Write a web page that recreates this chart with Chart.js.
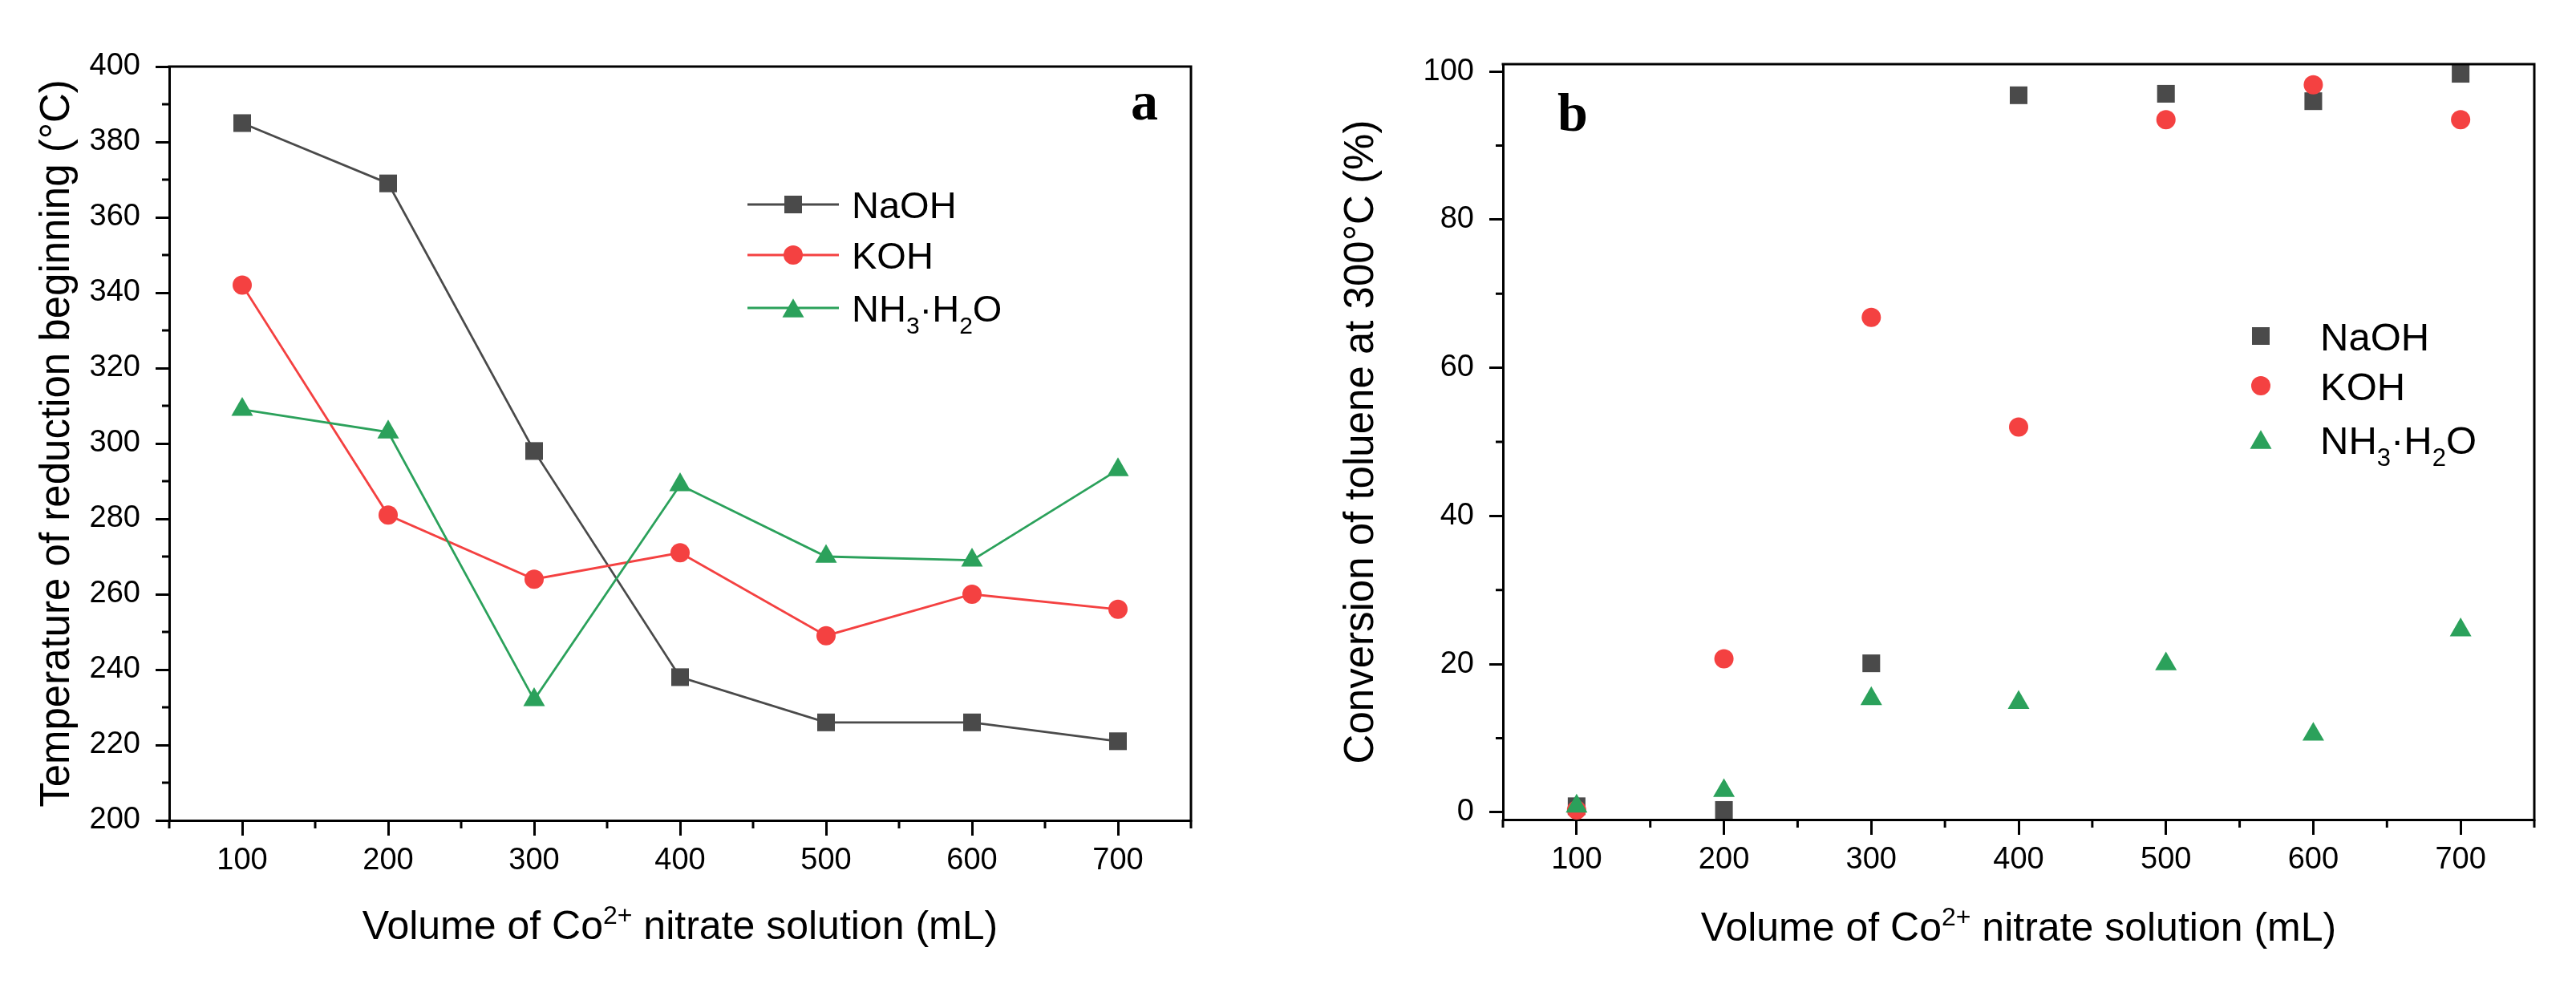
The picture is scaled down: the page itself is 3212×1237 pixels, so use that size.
<!DOCTYPE html>
<html>
<head>
<meta charset="utf-8">
<title>Co2+ nitrate volume</title>
<script src="https://cdn.jsdelivr.net/npm/chart.js@4.4.0/dist/chart.umd.min.js"></script>
<style>
  html, body { margin: 0; padding: 0; background: #fff; }
  canvas { position: absolute; top: 0; }
  #chartA { left: 0; }
  #chartB { left: 1606px; }
</style>
</head>
<body>
<canvas id="chartA" width="1606" height="1237"></canvas>
<canvas id="chartB" width="1606" height="1237"></canvas>
<script>
// volume of Co2+ nitrate solution (mL)
const volumes = [100, 200, 300, 400, 500, 600, 700]

// panel a: temperature of reduction beginning (°C)
const tempNaOH = [385, 369, 298, 238, 226, 226, 221]
const tempKOH = [342, 281, 264, 271, 249, 260, 256]
const tempNH3 = [309, 303, 232, 289, 270, 269, 293]

// panel b: conversion of toluene at 300°C (%)
const convNaOH = [0.8, 0.3, 20.1, 96.8, 97.0, 96.0, 99.7]
const convKOH = [0.3, 20.7, 66.8, 52.0, 93.5, 98.2, 93.5]
const convNH3 = [0.8, 2.9, 15.3, 14.8, 20.0, 10.5, 24.6]

// ticks
const xTicks = [100, 200, 300, 400, 500, 600, 700]
const xMinorTicks = [50, 150, 250, 350, 450, 550, 650, 750]
const tempTicks = [200, 220, 240, 260, 280, 300, 320, 340, 360, 380, 400]
const tempMinorTicks = [210, 230, 250, 270, 290, 310, 330, 350, 370, 390]
const convTicks = [0, 20, 40, 60, 80, 100]
const convMinorTicks = [10, 30, 50, 70, 90]

// legend names, with sub/superscripts as parts
const seriesNames = [
    [["NaOH", ""]],
    [["KOH", ""]],
    [["NH", ""], ["3", "sub"], ["·H", ""], ["2", "sub"], ["O", ""]]
]
const xTitle = [["Volume of Co", ""], ["2+", "sup"], [" nitrate solution (mL)", ""]]

const colors = ["#4a4a4a", "#f44141", "#2ba15b"]
const shapes = ["rect", "circle", "triangle"]
const radii = [15.6, 12, 15.6]

const FONT = '"Liberation Sans", Arial, sans-serif'
Chart.defaults.font.family = FONT
Chart.defaults.color = "#000"

function toPoints(ys) {
    return volumes.map((v, i) => ({ x: v, y: ys[i] }))
}

function drawRich(ctx, parts, x, y, size, align) {
    const fontFor = k => (k ? Math.round(size * 0.63) : size) + "px " + FONT
    let total = 0
    parts.forEach(([t, k]) => { ctx.font = fontFor(k); total += ctx.measureText(t).width })
    let cx = align === "center" ? x - total / 2 : x
    ctx.textAlign = "left"
    ctx.textBaseline = "alphabetic"
    ctx.fillStyle = "#000"
    parts.forEach(([t, k]) => {
        ctx.font = fontFor(k)
        const dy = k === "sup" ? -size * 0.38 : (k === "sub" ? size * 0.32 : 0)
        ctx.fillText(t, cx, y + dy)
        cx += ctx.measureText(t).width
    })
}

function drawMarker(ctx, shape, x, y, r) {
    ctx.beginPath()
    if (shape === "rect") {
        const s = Math.SQRT1_2 * r
        ctx.rect(x - s, y - s, 2 * s, 2 * s)
    } else if (shape === "circle") {
        ctx.arc(x, y, r, 0, Math.PI * 2)
    } else {
        // centred on its box like the reference legend
        const h = r * 1.5
        ctx.moveTo(x, y - h / 2)
        ctx.lineTo(x + r * 0.866, y + h / 2)
        ctx.lineTo(x - r * 0.866, y + h / 2)
        ctx.closePath()
    }
    ctx.fill()
}

// frame, minor ticks, x title, legend and panel letter
const decor = {
    id: "decor",
    afterDraw(chart, args, opts) {
        const ctx = chart.ctx
        const area = chart.chartArea
        const xs = chart.scales.x
        const ys = chart.scales.y
        ctx.save()
        ctx.strokeStyle = "#000"
        ctx.lineWidth = 3
        ctx.lineCap = "square"
        ctx.beginPath()
        ctx.moveTo(area.left, area.top)
        ctx.lineTo(area.right, area.top)
        ctx.lineTo(area.right, area.bottom)
        ctx.stroke()

        ctx.lineCap = "butt"
        ctx.beginPath()
        opts.xMinor.forEach(v => {
            const px = xs.getPixelForValue(v)
            ctx.moveTo(px, area.bottom)
            ctx.lineTo(px, area.bottom + 10)
        })
        opts.yMinor.forEach(v => {
            const py = ys.getPixelForValue(v)
            ctx.moveTo(area.left, py)
            ctx.lineTo(area.left - 9, py)
        })
        ctx.stroke()

        drawRich(ctx, xTitle, (area.left + area.right) / 2, opts.titleBaseline, 50, "center")

        const lg = opts.legend
        chart.data.datasets.forEach((ds, i) => {
            const ym = lg.rows[i]
            ctx.fillStyle = ds.backgroundColor
            if (lg.lineHalf) {
                ctx.strokeStyle = ds.borderColor
                ctx.lineWidth = ds.borderWidth
                ctx.beginPath()
                ctx.moveTo(lg.x - lg.lineHalf, ym)
                ctx.lineTo(lg.x + lg.lineHalf, ym)
                ctx.stroke()
            }
            drawMarker(ctx, ds.pointStyle, lg.x, ym, ds.pointRadius)
            drawRich(ctx, seriesNames[i], lg.textX, ym + lg.size * 0.358, lg.size, "left")
        })

        ctx.font = "bold 68px \"Liberation Serif\", \"Times New Roman\", serif"
        ctx.fillStyle = "#000"
        ctx.textAlign = "left"
        ctx.textBaseline = "alphabetic"
        ctx.fillText(opts.letter.text, opts.letter.x, opts.letter.y)
        ctx.restore()
    }
}

function makeDatasets(series, withLine) {
    return series.map((ys, i) => ({
        label: seriesNames[i].map(p => p[0]).join(""),
        data: toPoints(ys),
        borderColor: colors[i],
        backgroundColor: colors[i],
        borderWidth: 2.8,
        showLine: withLine,
        pointStyle: shapes[i],
        pointRadius: radii[i],
        pointHoverRadius: radii[i],
        pointBorderWidth: 0,
        order: 3 - i,
        clip: false
    }))
}

function buildOptions(p) {
    return {
        responsive: false,
        devicePixelRatio: 1,
        animation: false,
        events: [],
        layout: { padding: { top: p.top, right: p.right, left: 0, bottom: 0 } },
        plugins: {
            legend: { display: false },
            tooltip: { enabled: false },
            decor: p.decor
        },
        scales: {
            x: {
                type: "linear",
                min: 50,
                max: 750,
                afterBuildTicks: s => { s.ticks = xTicks.map(v => ({ value: v })) },
                afterFit: s => { s.height = p.xHeight },
                ticks: { font: { size: 38 }, padding: 9, color: "#000", maxRotation: 0 },
                grid: { drawOnChartArea: false, drawTicks: true, tickLength: 19, tickWidth: 3, tickColor: "#000" },
                border: { display: true, color: "#000", width: 3 }
            },
            y: {
                type: "linear",
                min: p.yMin,
                max: p.yMax,
                afterBuildTicks: s => { s.ticks = p.yTicks.map(v => ({ value: v })) },
                afterFit: s => { s.width = p.yWidth },
                ticks: { font: { size: 38 }, padding: 19, color: "#000" },
                grid: { drawOnChartArea: false, drawTicks: true, tickLength: 17, tickWidth: 3, tickColor: "#000" },
                border: { display: true, color: "#000", width: 3 },
                title: {
                    display: true,
                    text: p.yTitle,
                    font: { size: 51 },
                    color: "#000",
                    padding: { top: p.yTitlePad, bottom: 0 }
                }
            }
        }
    }
}

new Chart(document.getElementById("chartA"), {
    type: "line",
    data: { datasets: makeDatasets([tempNaOH, tempKOH, tempNH3], true) },
    options: buildOptions({
        top: 83, right: 121, xHeight: 214, yWidth: 211,
        yMin: 200, yMax: 400, yTicks: tempTicks,
        yTitle: "Temperature of reduction beginning (°C)", yTitlePad: 41,
        decor: {
            xMinor: xMinorTicks, yMinor: tempMinorTicks, titleBaseline: 1171,
            legend: { x: 989, lineHalf: 57, textX: 1062, rows: [255, 318, 384], size: 47 },
            letter: { text: "a", x: 1410, y: 149 }
        }
    }),
    plugins: [decor]
})

new Chart(document.getElementById("chartB"), {
    type: "scatter",
    data: { datasets: makeDatasets([convNaOH, convKOH, convNH3], false) },
    options: buildOptions({
        top: 80, right: 52, xHeight: 215, yWidth: 268,
        yMin: -1, yMax: 101, yTicks: convTicks,
        yTitle: "Conversion of toluene at 300°C (%)", yTitlePad: 61,
        decor: {
            xMinor: xMinorTicks, yMinor: convMinorTicks, titleBaseline: 1173,
            legend: { x: 1213, lineHalf: 0, textX: 1287, rows: [419, 481, 548], size: 49 },
            letter: { text: "b", x: 336, y: 163 }
        }
    }),
    plugins: [decor]
})
</script>
</body>
</html>
